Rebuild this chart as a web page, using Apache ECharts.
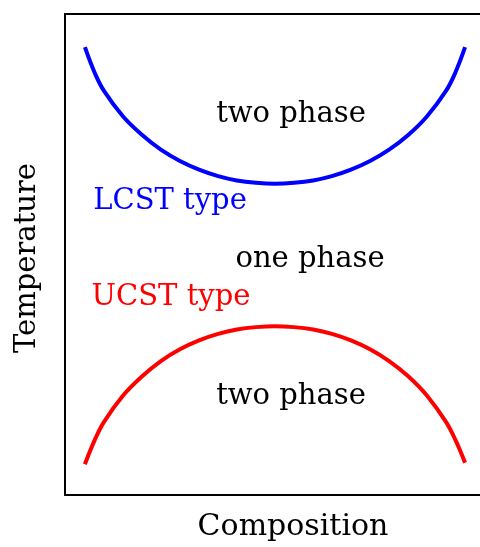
<!DOCTYPE html>
<html>
<head>
<meta charset="utf-8">
<script src="https://cdn.jsdelivr.net/npm/echarts@6/dist/echarts.min.js"></script>
<style>
  html, body { margin: 0; padding: 0; background: #fff; }
  #chart { width: 480px; height: 547px; }
</style>
</head>
<body>
<div id="chart"></div>
<script>
  // composition (0-100) vs temperature (0-100)
  let compX = [4.8, 7.1, 9.4, 14.0, 18.6, 23.1, 27.7, 32.3, 36.9, 41.4, 46.0, 50.6,
               55.2, 59.8, 64.3, 68.9, 73.5, 78.1, 82.7, 87.2, 91.8, 94.1, 96.4]
  let lcstY = [93.1, 87.9, 84.0, 78.7, 74.85, 71.8, 69.45, 67.65, 66.3, 65.4, 64.9, 64.7,
               64.9, 65.4, 66.3, 67.65, 69.45, 71.8, 74.85, 78.7, 84.0, 87.9, 93.1]
  let ucstY = [6.4, 11.3, 15.2, 20.7, 24.7, 27.85, 30.3, 32.15, 33.5, 34.4, 34.9, 35.1,
               34.9, 34.4, 33.5, 32.15, 30.3, 27.85, 24.7, 20.7, 15.2, 11.4, 6.7]

  let font = '"DejaVu Serif", serif'

  let myChart = echarts.init(document.getElementById('chart'))

  let pairs = (xs, ys) => xs.map((x, i) => [x, ys[i]])

  let txt = (s, x, y, color, size) => ({
    type: 'text',
    x: x, y: y,
    style: {
      text: s, fill: color, font: size + 'px ' + font,
      textAlign: 'center', textVerticalAlign: 'middle'
    }
  })

  let blackLine = { show: true, lineStyle: { color: '#000', width: 2 } }
  let hidden = {
    axisTick: { show: false }, axisLabel: { show: false }, splitLine: { show: false }
  }

  myChart.setOption({
    animation: false,
    grid: { left: 65, top: 14, right: 0, bottom: 52 },
    xAxis: [
      Object.assign({ type: 'value', min: 0, max: 100, position: 'bottom', axisLine: blackLine }, hidden),
      Object.assign({ type: 'value', min: 0, max: 100, position: 'top', axisLine: blackLine }, hidden)
    ],
    yAxis: Object.assign({ type: 'value', min: 0, max: 100, axisLine: blackLine }, hidden),
    series: [{
      name: 'LCST',
      type: 'line',
      smooth: 0.4,
      symbol: 'none',
      lineStyle: { color: '#0000ff', width: 4 },
      data: pairs(compX, lcstY)
    }, {
      name: 'UCST',
      type: 'line',
      smooth: 0.4,
      symbol: 'none',
      lineStyle: { color: '#ff0000', width: 4 },
      data: pairs(compX, ucstY)
    }],
    graphic: [
      txt('two phase', 291, 114, '#000', 29),
      txt('LCST type', 170, 201, '#0000ff', 29),
      txt('one phase', 310, 259, '#000', 29),
      txt('UCST type', 171, 297, '#ff0000', 29),
      txt('two phase', 291, 396, '#000', 29),
      txt('Composition', 293, 527, '#000', 30),
      Object.assign(txt('Temperature', 0, 0, '#000', 29), { x: 27, y: 258, rotation: Math.PI / 2 })
    ]
  })
</script>
</body>
</html>
